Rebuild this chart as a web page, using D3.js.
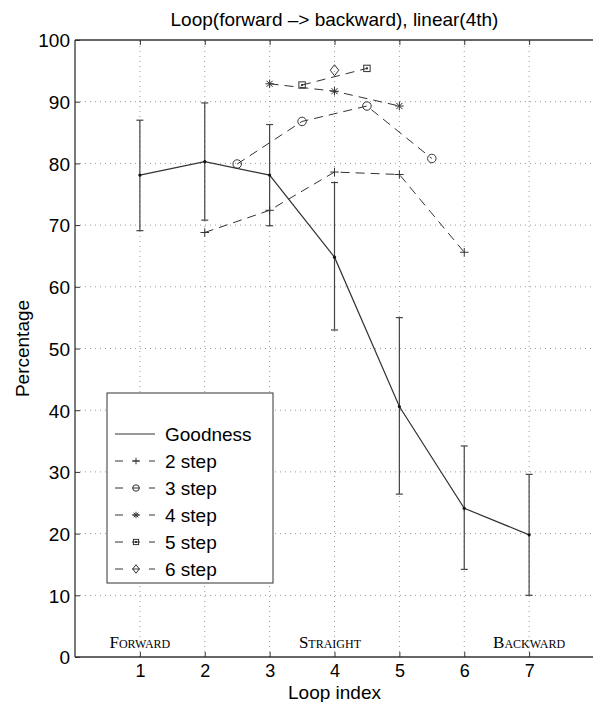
<!DOCTYPE html>
<html lang="en">
<head>
<meta charset="UTF-8">
<title>Loop chart</title>
<script src="https://cdn.jsdelivr.net/npm/d3@7"></script>
<style>
    body { margin: 0; background: #fff; }
    text { font-family: 'Liberation Sans', Arial, sans-serif; fill: #000; }
</style>
</head>
<body>
<div id="chart"></div>
<script>
    // data
    const loopIdx = [1, 2, 3, 4, 5, 6, 7]
    const goodness = [78.1, 80.3, 78.1, 64.8, 40.6, 24.1, 19.8]
    const goodLow = [69.1, 70.8, 69.9, 53.0, 26.4, 14.2, 10.0]
    const goodHigh = [87.0, 89.8, 86.3, 76.9, 55.0, 34.2, 29.6]

    const twoStepX = [2, 3, 4, 5, 6]
    const twoStep = [68.8, 72.4, 78.6, 78.2, 65.6]
    const threeStepX = [2.5, 3.5, 4.5, 5.5]
    const threeStep = [79.9, 86.8, 89.3, 80.8]
    const fourStepX = [3, 4, 5]
    const fourStep = [92.9, 91.7, 89.3]
    const fiveStepX = [3.5, 4.5]
    const fiveStep = [92.7, 95.4]
    const sixStepX = [4]
    const sixStep = [95.1]

    const yTicks = d3.range(0, 101, 10)
    const regionLabels = [["Forward", 1], ["Straight", 3.93], ["Backward", 7]]

    const W = 593, H = 702
    const x = d3.scaleLinear().domain([0, 8]).range([75, 594])
    const y = d3.scaleLinear().domain([0, 100]).range([657, 40])
    const ink = "#333"

    const svg = d3.select("#chart").append("svg")
        .attr("width", W).attr("height", H)

    // dotted grid
    const grid = svg.append("g")
    grid.selectAll("line.gy").data(yTicks.slice(1, -1)).enter().append("line")
        .attr("x1", x(0)).attr("x2", x(8))
        .attr("y1", d => y(d)).attr("y2", d => y(d))
    grid.selectAll("line.gx").data(loopIdx).enter().append("line")
        .attr("x1", d => x(d)).attr("x2", d => x(d))
        .attr("y1", y(0)).attr("y2", y(100))
    grid.selectAll("line")
        .attr("stroke", "#999").attr("stroke-width", 1)
        .attr("stroke-dasharray", "1,4")

    // axes, ticks pointing inward
    const leftAx = svg.append("g").attr("transform", `translate(${x(0)},0)`)
        .call(d3.axisLeft(y).tickValues(yTicks).tickSize(-5).tickPadding(5))
    const bottomAx = svg.append("g").attr("transform", `translate(0,${y(0)})`)
        .call(d3.axisBottom(x).tickValues(loopIdx).tickSize(-5).tickPadding(7))
    const topAx = svg.append("g").attr("transform", `translate(0,${y(100)})`)
        .call(d3.axisTop(x).tickValues(loopIdx).tickSize(-5).tickFormat(""))
    for (const g of [leftAx, bottomAx, topAx]) {
        g.select(".domain").attr("stroke", ink).attr("stroke-width", 1.3)
        g.selectAll(".tick line").attr("stroke", ink)
        g.selectAll(".tick text").attr("font-size", 19)
            .attr("font-family", "'Liberation Sans', Arial, sans-serif").attr("fill", "#000")
    }
    leftAx.select(".domain").attr("d", `M0,${y(0)}V${y(100)}`)
    bottomAx.select(".domain").attr("d", `M${x(0)},0H${x(8)}`)
    topAx.select(".domain").attr("d", `M${x(0)},0H${x(8)}`)
    leftAx.selectAll(".tick text").attr("dy", "0.36em")
    bottomAx.selectAll(".tick text").attr("font-size", 18)

    // region labels
    svg.selectAll("text.region").data(regionLabels).enter().append("text")
        .attr("x", d => x(d[1])).attr("y", 648)
        .attr("text-anchor", "middle")
        .style("font-family", "'Liberation Serif', 'DejaVu Serif', serif")
        .style("font-variant", "small-caps")
        .attr("font-size", 17).attr("fill", "#222")
        .text(d => d[0])

    // titles
    svg.append("text").attr("x", x(4)).attr("y", 26)
        .attr("text-anchor", "middle").attr("font-size", 19)
        .text("Loop(forward \u2013> backward), linear(4th)")
    svg.append("text").attr("x", x(4)).attr("y", 699)
        .attr("text-anchor", "middle").attr("font-size", 19)
        .text("Loop index")
    svg.append("text")
        .attr("transform", `translate(29,${(y(0) + y(100)) / 2}) rotate(-90)`)
        .attr("text-anchor", "middle").attr("font-size", 19)
        .text("Percentage")

    // marker shapes
    function marker(g, kind, s) {
        const h = s / 2
        if (kind === "plus") {
            g.append("path").attr("d", `M${-h},0H${h}M0,${-h}V${h}`)
        } else if (kind === "circle") {
            g.append("circle").attr("r", h)
        } else if (kind === "star") {
            const a = h * 0.72
            g.append("path").attr("d", `M${-h},0H${h}M0,${-h}V${h}M${-a},${-a}L${a},${a}M${-a},${a}L${a},${-a}`)
        } else if (kind === "square") {
            g.append("rect").attr("x", -h * 0.8).attr("y", -h * 0.8)
                .attr("width", s * 0.8).attr("height", s * 0.8)
            g.append("rect").attr("x", -0.5).attr("y", -0.5).attr("width", 1).attr("height", 1)
                .attr("fill", ink)
        } else if (kind === "diamond") {
            g.append("path").attr("d", `M0,${-h * 1.3}L${h},0L0,${h * 1.3}L${-h},0Z`)
        }
        g.attr("fill", "none").attr("stroke", ink).attr("stroke-width", 1)
    }

    const line = d3.line().x(d => x(d[0])).y(d => y(d[1]))
    const steps = [
        { name: "2 step", xs: twoStepX, ys: twoStep, m: "plus" },
        { name: "3 step", xs: threeStepX, ys: threeStep, m: "circle" },
        { name: "4 step", xs: fourStepX, ys: fourStep, m: "star" },
        { name: "5 step", xs: fiveStepX, ys: fiveStep, m: "square" },
        { name: "6 step", xs: sixStepX, ys: sixStep, m: "diamond" }
    ]

    // error bars
    const eb = svg.append("g").attr("stroke", "#444").attr("stroke-width", 1.2)
    loopIdx.forEach((d, i) => {
        eb.append("line").attr("x1", x(d)).attr("x2", x(d))
            .attr("y1", y(goodLow[i])).attr("y2", y(goodHigh[i]))
        for (const v of [goodLow[i], goodHigh[i]]) {
            eb.append("line").attr("x1", x(d) - 3.5).attr("x2", x(d) + 3.5)
                .attr("y1", y(v)).attr("y2", y(v))
        }
    })

    // step series
    steps.forEach(s => {
        const pts = s.xs.map((v, i) => [v, s.ys[i]])
        svg.append("path").datum(pts).attr("d", line)
            .attr("fill", "none").attr("stroke", ink).attr("stroke-width", 1)
            .attr("stroke-dasharray", "9,6")
        pts.forEach(p => {
            const g = svg.append("g").attr("transform", `translate(${x(p[0])},${y(p[1])})`)
            marker(g, s.m, s.m === "square" ? 8 : 8.5)
        })
    })

    // goodness line
    const gpts = loopIdx.map((d, i) => [d, goodness[i]])
    svg.append("path").datum(gpts).attr("d", line)
        .attr("fill", "none").attr("stroke", ink).attr("stroke-width", 1.2)
    svg.selectAll("circle.gdot").data(gpts).enter().append("circle")
        .attr("cx", d => x(d[0])).attr("cy", d => y(d[1])).attr("r", 1.6).attr("fill", "#111")

    // legend
    const lg = svg.append("g")
    lg.append("rect").attr("x", 107).attr("y", 393).attr("width", 166).attr("height", 190)
        .attr("fill", "#fff").attr("stroke", ink).attr("stroke-width", 1)
    const rowY = i => 434 + i * 27
    lg.append("line").attr("x1", 115).attr("x2", 155).attr("y1", rowY(0)).attr("y2", rowY(0))
        .attr("stroke", ink).attr("stroke-width", 1)
    lg.append("text").attr("x", 165).attr("y", rowY(0)).attr("dy", "0.36em")
        .attr("font-size", 19).text("Goodness")
    steps.forEach((s, i) => {
        const yy = rowY(i + 1)
        lg.append("line").attr("x1", 115).attr("x2", 155).attr("y1", yy).attr("y2", yy)
            .attr("stroke", ink).attr("stroke-width", 1).attr("stroke-dasharray", "8,9")
        const g = lg.append("g").attr("transform", `translate(136,${yy})`)
        marker(g, s.m, 6.5)
        lg.append("text").attr("x", 165).attr("y", yy).attr("dy", "0.36em")
            .attr("font-size", 19).text(s.name)
    })
</script>
</body>
</html>
